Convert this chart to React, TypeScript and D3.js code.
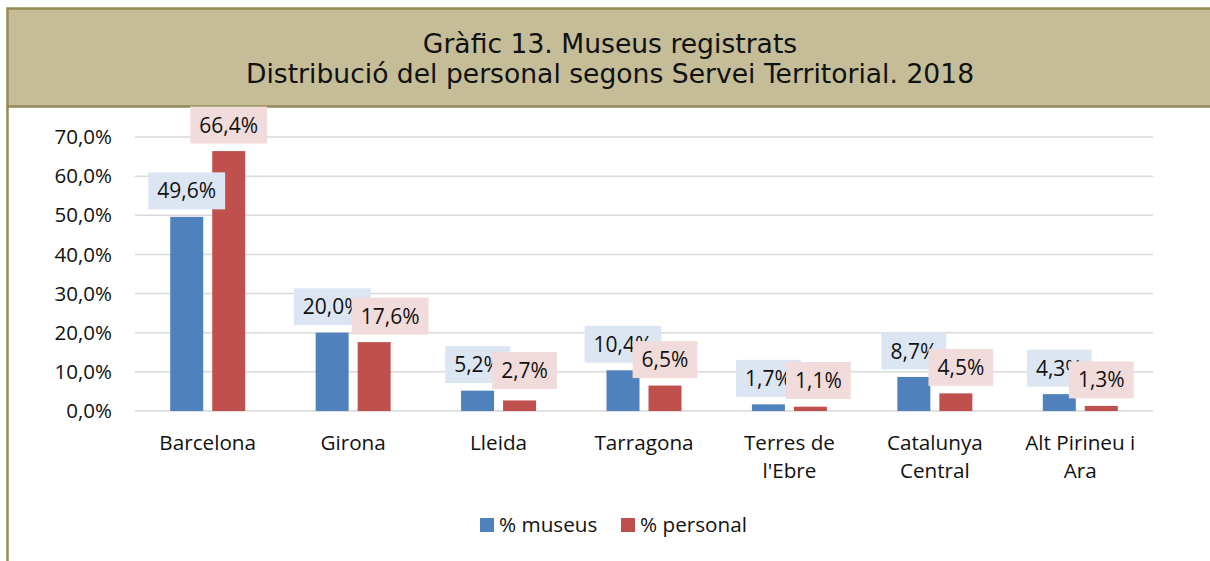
import React, { useEffect, useRef } from "react";
import * as d3 from "d3";

const categories: string[][] = [
  ["Barcelona"],
  ["Girona"],
  ["Lleida"],
  ["Tarragona"],
  ["Terres de", "l'Ebre"],
  ["Catalunya", "Central"],
  ["Alt Pirineu i", "Ara"],
];
const museus: number[] = [49.6, 20.0, 5.2, 10.4, 1.7, 8.7, 4.3];
const personal: number[] = [66.4, 17.6, 2.7, 6.5, 1.1, 4.5, 1.3];
const seriesNames: string[] = ["% museus", "% personal"];
const yTicks: number[] = [0, 10, 20, 30, 40, 50, 60, 70];
const titleLines: string[] = [
  "Gràfic 13. Museus registrats",
  "Distribució del personal segons Servei Territorial. 2018",
];

// Layout: manual nudges of the "% personal" data labels (as in the source chart)
const personalLabelNudgeX = [0, 16, 5, 0, 8, 5, 0];
const personalLabelNudgeY = [0, 0, -4, 0, 0, 0, 0];

const W = 1210;
const H = 561;
const FONT = "'Open Sans', 'Liberation Sans', sans-serif";
const fmt = (v: number) => v.toFixed(1).replace(".", ",") + "%";

export default function App() {
  const ref = useRef<SVGSVGElement | null>(null);

  useEffect(() => {
    const svg = d3.select(ref.current);
    svg.selectAll("*").remove();

    svg.append("rect").attr("x", 0).attr("y", 0).attr("width", W).attr("height", H).attr("fill", "#fff");
    svg
      .append("rect")
      .attr("x", 7.5)
      .attr("y", 8.5)
      .attr("width", W + 10)
      .attr("height", 98)
      .attr("fill", "#C4BD97")
      .attr("stroke", "#948A54")
      .attr("stroke-width", 2.5);
    svg
      .append("line")
      .attr("x1", 7.5)
      .attr("x2", 7.5)
      .attr("y1", 106)
      .attr("y2", H)
      .attr("stroke", "#948A54")
      .attr("stroke-width", 2.5);

    titleLines.forEach((t, i) => {
      svg
        .append("text")
        .attr("x", 610)
        .attr("y", 53 + i * 30)
        .attr("text-anchor", "middle")
        .attr("font-family", "'DejaVu Sans', Verdana, sans-serif")
        .attr("font-size", 26.6)
        .attr("fill", "#111")
        .text(t);
    });

    const left = 135;
    const right = 1153;
    const y = d3.scaleLinear().domain([0, 70]).range([411, 137]);
    const x0 = d3
      .scaleBand<number>()
      .domain(d3.range(categories.length))
      .range([left, right])
      .paddingInner(0)
      .paddingOuter(0);
    const barW = 33;
    const gap = 9;
    const x1 = d3
      .scaleOrdinal<number, number>()
      .domain([0, 1])
      .range([-(barW + gap / 2), gap / 2]);

    svg
      .append("g")
      .selectAll("line")
      .data(yTicks)
      .join("line")
      .attr("x1", left)
      .attr("x2", right)
      .attr("y1", (d) => y(d))
      .attr("y2", (d) => y(d))
      .attr("stroke", "#D9D9D9")
      .attr("stroke-width", 1.5);

    svg
      .append("g")
      .selectAll("text")
      .data(yTicks)
      .join("text")
      .attr("x", 112)
      .attr("y", (d) => y(d))
      .attr("dy", "0.35em")
      .attr("text-anchor", "end")
      .attr("font-family", FONT)
      .attr("font-size", 20.5)
      .attr("fill", "#111")
      .text((d) => fmt(d));

    const series = [museus, personal];
    const colors = ["#4F81BD", "#C0504D"];
    const labelBg = ["#DCE6F2", "#F2DCDB"];

    series.forEach((vals, si) => {
      svg
        .append("g")
        .selectAll("rect")
        .data(vals)
        .join("rect")
        .attr("x", (_, i) => (x0(i) as number) + x0.bandwidth() / 2 + (x1(si) as number))
        .attr("width", barW)
        .attr("y", (d) => y(d))
        .attr("height", (d) => y(0) - y(d))
        .attr("fill", colors[si]);
    });

    series.forEach((vals, si) => {
      const g = svg.append("g");
      vals.forEach((v, i) => {
        const nx = si === 1 ? personalLabelNudgeX[i] : 0;
        const ny = si === 1 ? personalLabelNudgeY[i] : 0;
        const cx = (x0(i) as number) + x0.bandwidth() / 2 + (x1(si) as number) + barW / 2 + nx;
        const bottom = Math.min(y(v) - 7.5, 399) + ny;
        const h = 37;
        const lg = g.append("g");
        const rect = lg.append("rect").attr("fill", labelBg[si]);
        const txt = lg
          .append("text")
          .attr("x", cx)
          .attr("y", bottom - h / 2)
          .attr("dy", "0.36em")
          .attr("text-anchor", "middle")
          .attr("font-family", FONT)
          .attr("font-size", 21)
          .attr("fill", "#111")
          .text(fmt(v));
        const tw = (txt.node() as SVGTextElement).getComputedTextLength();
        const bw = tw + 18;
        rect
          .attr("x", cx - bw / 2)
          .attr("y", bottom - h)
          .attr("width", bw)
          .attr("height", h);
      });
    });

    categories.forEach((lines, i) => {
      const cx = (x0(i) as number) + x0.bandwidth() / 2;
      lines.forEach((ln, li) => {
        svg
          .append("text")
          .attr("x", cx)
          .attr("y", 443 + li * 28)
          .attr("dy", "0.35em")
          .attr("text-anchor", "middle")
          .attr("font-family", FONT)
          .attr("font-size", 20.7)
          .attr("fill", "#111")
          .text(ln);
      });
    });

    const legendX = [480, 621];
    seriesNames.forEach((n, i) => {
      svg
        .append("rect")
        .attr("x", legendX[i])
        .attr("y", 518)
        .attr("width", 14)
        .attr("height", 14)
        .attr("fill", colors[i]);
      svg
        .append("text")
        .attr("x", legendX[i] + 19)
        .attr("y", 525)
        .attr("dy", "0.35em")
        .attr("font-family", FONT)
        .attr("font-size", 20.7)
        .attr("fill", "#111")
        .text(n);
    });
  }, []);

  return (
    <svg
      ref={ref}
      width={W}
      height={H}
      style={{ position: "absolute", left: 0, top: 0, display: "block" }}
    />
  );
}
